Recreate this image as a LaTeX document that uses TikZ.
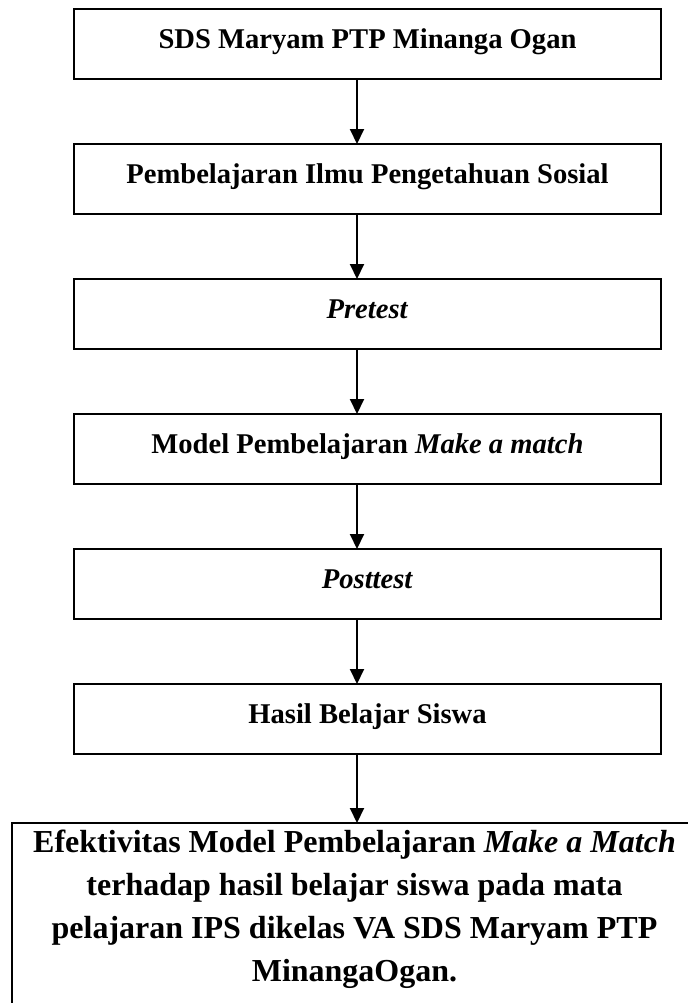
\documentclass[tikz,border=0pt]{standalone}
\usepackage{fontspec}
\setmainfont{Liberation Serif}
\usetikzlibrary{arrows.meta,positioning}
\tikzset{>=Triangle}
\tikzset{
  box/.style={draw, line width=1pt, outer sep=0pt, minimum width=293.5pt, minimum height=34.75pt, text height=10pt, text depth=5pt, align=center, font=\bfseries\fontsize{14.3}{17}\selectfont},
  bigbox/.style={draw, line width=1pt, outer sep=0pt, inner xsep=0pt, inner ysep=3.5pt, font=\bfseries\fontsize{16}{21.5}\selectfont},
  arrow/.style={-{Triangle[length=7.5pt,width=7pt]}, line width=1pt},
}
\begin{document}
\begin{tikzpicture}[x=0.5pt, y=-0.5pt, node distance=32.75pt]
  \useasboundingbox (0,0) rectangle (688,1003);
  \clip (0,0) rectangle (688,1003);
  \node[box] (sds) at (367.5,43.75) {SDS Maryam PTP Minanga Ogan};
  \node[box, below=of sds] (ips) {Pembelajaran Ilmu Pengetahuan Sosial};
  \node[box, below=of ips] (pre) {\textit{Pretest}};
  \node[box, below=of pre] (model) {Model Pembelajaran \textit{Make a match}};
  \node[box, below=of model] (post) {\textit{Posttest}};
  \node[box, below=of post] (hasil) {Hasil Belajar Siswa};
  \node[bigbox, anchor=north] (efek) at (354.5,823)
  {\parbox[t][110pt][t]{342.5pt}{\centering Efektivitas Model Pembelajaran \textit{Make a Match}\\
  terhadap hasil belajar siswa pada mata\\
  pelajaran IPS dikelas VA SDS Maryam PTP\\
  MinangaOgan.}};
  \foreach \a/\b in {sds/ips, ips/pre, pre/model, model/post, post/hasil}
    \draw[arrow] ([xshift=-5.25pt]\a.south) -- ([xshift=-5.25pt]\b.north);
  \draw[arrow] ([xshift=-5.25pt]hasil.south) -- ([xshift=-5.25pt]hasil.south |- efek.north);
\end{tikzpicture}
\end{document}
